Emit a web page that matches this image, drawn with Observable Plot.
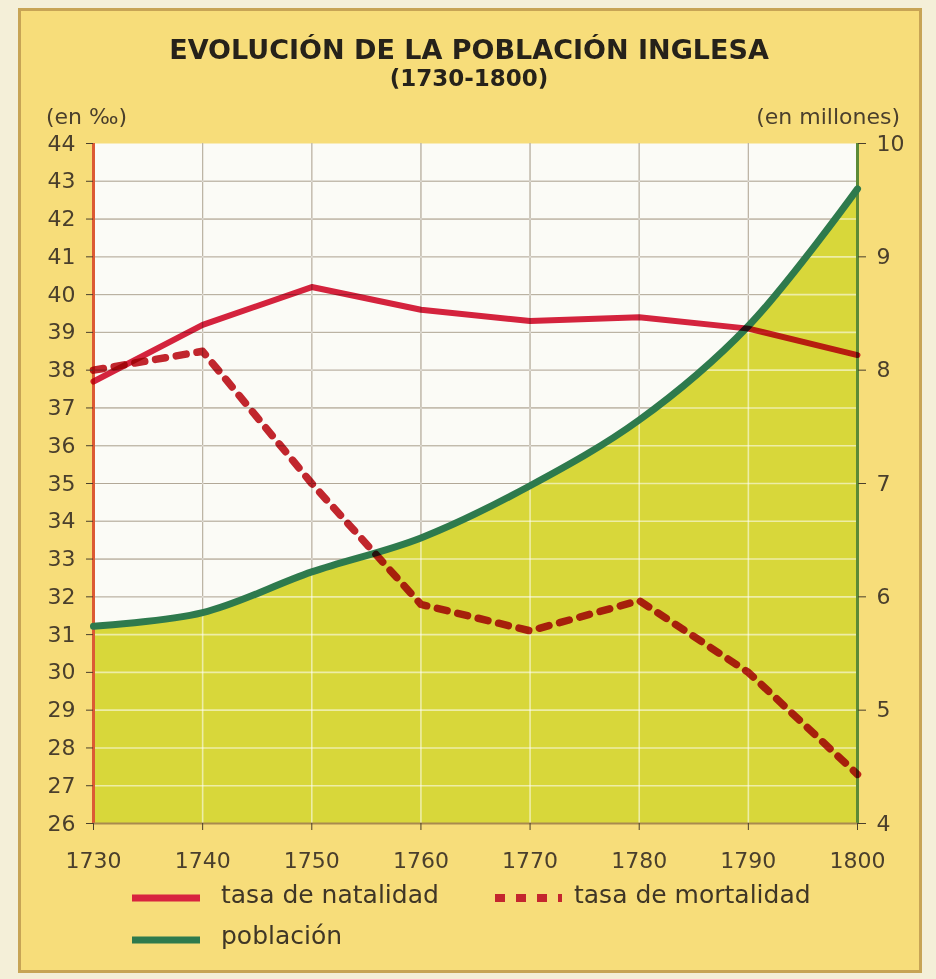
<!DOCTYPE html>
<html>
<head>
<meta charset="utf-8">
<script src="https://cdn.jsdelivr.net/npm/d3@7"></script>
<script src="https://cdn.jsdelivr.net/npm/@observablehq/plot@0.6"></script>
<style>
  body { margin:0; width:936px; height:979px; background:#f4efd8; position:relative; overflow:hidden; font-family:"DejaVu Sans", sans-serif; color:#3f3626; }
  #panel { position:absolute; left:18px; top:8px; width:904px; height:965px; background:#f7dd7a; border:3px solid #c7a455; box-sizing:border-box; }
  #title { position:absolute; left:0; top:36px; width:938px; text-align:center; font-weight:bold; font-size:27px; line-height:27px; color:#26221a; }
  #subtitle { position:absolute; left:0; top:67px; width:938px; text-align:center; font-weight:bold; font-size:23px; line-height:23px; color:#26221a; }
  .unit { position:absolute; top:106px; font-size:22px; line-height:22px; color:#4a3f2c; }
  #chart { position:absolute; left:0; top:130px; }
  .leg { position:absolute; font-size:25px; line-height:25px; color:#3f3626; white-space:nowrap; }
  .sw { position:absolute; }
</style>
</head>
<body>
<div id="panel"></div>
<div id="title">EVOLUCIÓN DE LA POBLACIÓN INGLESA</div>
<div id="subtitle">(1730-1800)</div>
<div class="unit" style="left:46px">(en ‰)</div>
<div class="unit" style="right:36px">(en millones)</div>
<div id="chart"></div>
<svg class="sw" style="left:130px; top:890px" width="72" height="16"><line x1="2" x2="70" y1="8" y2="8" stroke="#d8233f" stroke-width="7"/></svg>
<div class="leg" style="left:221px; top:882px">tasa de natalidad</div>
<svg class="sw" style="left:488px; top:890px" width="76" height="16"><line x1="2" x2="74" y1="8" y2="8" stroke="#c4262e" stroke-width="8" stroke-dasharray="10,11" stroke-dashoffset="16"/></svg>
<div class="leg" style="left:574px; top:882px">tasa de mortalidad</div>
<svg class="sw" style="left:130px; top:932px" width="72" height="16"><line x1="2" x2="70" y1="8" y2="8" stroke="#2e7a4d" stroke-width="7"/></svg>
<div class="leg" style="left:221px; top:923px">población</div>
<script>
const years = [1730, 1740, 1750, 1760, 1770, 1780, 1790, 1800];
const natalidad = [37.7, 39.2, 40.2, 39.6, 39.3, 39.4, 39.1, 38.4];
const mortalidad = [38.0, 38.5, 35.0, 31.8, 31.1, 31.9, 30.0, 27.3];
const poblacion = [5.74, 5.86, 6.22, 6.52, 6.98, 7.56, 8.39, 9.6];
const leftTicks = [26, 27, 28, 29, 30, 31, 32, 33, 34, 35, 36, 37, 38, 39, 40, 41, 42, 43, 44];
const rightTicks = [4, 5, 6, 7, 8, 9, 10];

// map population (millions, right axis 4–10) onto the left scale (‰, 26–44)
const toLeft = v => 26 + (v - 4) * 3;
const fromLeft = v => 4 + (v - 26) / 3;

const data = years.map((year, i) => ({year, nat: natalidad[i], mort: mortalidad[i], pop: poblacion[i]}));
const innerY = leftTicks.filter(v => v > 26 && v < 44);
const innerX = years.filter(v => v > 1730 && v < 1800);

const chart = Plot.plot({
  width: 936,
  height: 748,
  marginLeft: 93,
  marginRight: 79,
  marginTop: 13,
  marginBottom: 55,
  style: {background: "transparent", fontFamily: "DejaVu Sans, sans-serif", color: "#4a3f2c"},
  x: {domain: [1730, 1800]},
  y: {domain: [26, 44]},
  marks: [
    Plot.frame({fill: "#fbfbf6", stroke: "none"}),
    // dark grid, later covered by the area and lightened by the screen grid
    Plot.gridY(innerY, {stroke: "#543f18", strokeOpacity: 1, strokeWidth: 1}),
    Plot.gridX(innerX, {stroke: "#543f18", strokeOpacity: 1, strokeWidth: 1}),
    Plot.areaY(data, {x: "year", y1: 26, y2: d => toLeft(d.pop), fill: "#d8d73a", curve: "catmull-rom"}),
    Plot.gridY(innerY, {stroke: "#8c8c8c", strokeOpacity: 1, strokeWidth: 1.6, mixBlendMode: "screen"}),
    Plot.gridX(innerX, {stroke: "#8c8c8c", strokeOpacity: 1, strokeWidth: 1.6, mixBlendMode: "screen"}),
    Plot.ruleX([1730], {stroke: "#dc5a34", strokeWidth: 3}),
    Plot.ruleX([1800], {stroke: "#5c8a36", strokeWidth: 3}),
    Plot.ruleY([26], {stroke: "#a98a4e", strokeWidth: 2}),
    Plot.lineY(data, {x: "year", y: d => toLeft(d.pop), stroke: "#2e7a4d", strokeWidth: 7, curve: "catmull-rom"}),
    Plot.lineY(data, {x: "year", y: "nat", stroke: "#d8233f", strokeWidth: 6, strokeLinejoin: "round", mixBlendMode: "multiply"}),
    Plot.lineY(data, {x: "year", y: "mort", stroke: "#c4262e", strokeWidth: 7.5, strokeDasharray: "10,11", mixBlendMode: "multiply"}),
    Plot.axisY(leftTicks, {anchor: "left", tickSize: 7, tickPadding: 11, fontSize: 22, label: null, tickFormat: d => String(d), color: "#4a3f2c"}),
    Plot.axisY(rightTicks.map(toLeft), {anchor: "right", tickSize: 8, tickPadding: 11, fontSize: 22, label: null, tickFormat: d => String(Math.round(fromLeft(d))), color: "#4a3f2c"}),
    Plot.axisX(years, {anchor: "bottom", tickSize: 7, tickPadding: 22, fontSize: 22, label: null, tickFormat: d => String(d), color: "#4a3f2c"})
  ]
});
document.getElementById("chart").appendChild(chart);
</script>
</body>
</html>
